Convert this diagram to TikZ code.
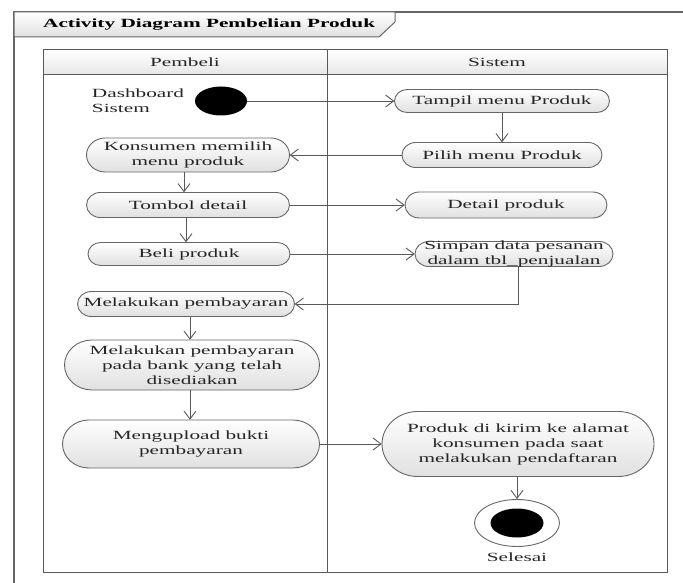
\documentclass[tikz,border=0pt]{standalone}
\usepackage{fontspec}
\setmainfont[FakeStretch=1.7]{Liberation Serif}
\usetikzlibrary{arrows.meta,shapes.geometric}
\tikzset{
  actshape/.style={draw=black!60, line width=0.9pt, top color=white, bottom color=black!12},
  acttext/.style={inner sep=0pt, align=center, font=\fontsize{12.5}{15}\selectfont, text=black!85},
  flow/.style={draw=black!65, line width=0.9pt, -{Straight Barb[length=8pt,width=12pt]}},
  lane/.style={draw=black!65, line width=1pt},
  frameline/.style={draw=black!60, line width=1.3pt},
  initnode/.style={ellipse, fill=black, inner sep=0pt, minimum width=52pt, minimum height=29pt},
}
\newcommand\actnode[6]{%
  \pgfmathsetmacro\actrx{min(0.55*#5,#4/2)}%
  \pgfmathsetmacro\actry{#5/2}%
  \path[actshape] (#2-#4/2+\actrx, -#3+\actry) -- (#2+#4/2-\actrx, -#3+\actry)
     arc[start angle=90, end angle=-90, x radius=\actrx pt, y radius=\actry pt]
     -- (#2-#4/2+\actrx, -#3-\actry)
     arc[start angle=270, end angle=90, x radius=\actrx pt, y radius=\actry pt] -- cycle;
  \node[acttext, minimum width=#4pt, minimum height=#5pt] (#1) at (#2,-#3) {#6};
}
\begin{document}
\begin{tikzpicture}[x=1pt,y=1pt]
\useasboundingbox (0,0) rectangle (683,-583);
\fill[white] (0,0) rectangle (683,-583);
% outer frame
\draw[frameline] (14,-583) -- (14,-12) -- (683,-12);
% title tab
\path[top color=white, bottom color=black!12, draw=black!60, line width=1pt]
  (14,-12) -- (395,-12) -- (395,-22) -- (379,-37) -- (14,-37) -- cycle;
\node[font=\bfseries\fontsize{12.5}{15}\selectfont, anchor=west, inner sep=0pt] (title) at (43,-24.5) {Activity Diagram Pembelian Produk};
% swimlanes
\path[top color=white, bottom color=black!10] (43,-50) rectangle (667,-75);
\draw[lane] (43,-50) rectangle (667,-572);
\draw[lane] (43,-75) -- (667,-75);
\draw[lane] (327,-50) -- (327,-572);
\node[acttext] (hp) at (185,-62.5) {Pembeli};
\node[acttext] (hs) at (497,-62.5) {Sistem};
% start
\node[initnode] (start) at (221,-101) {};
\node[acttext, align=left] (dash) at (138,-100.5) {Dashboard\\Sistem};
% activities
\actnode{tampil}{502}{101}{215}{23}{Tampil menu Produk}
\actnode{pilih}{502}{155}{200}{25}{Pilih menu Produk}
\actnode{konsumen}{188}{155}{203}{34}{Konsumen memilih\\menu produk}
\actnode{tombol}{188}{205}{203}{25}{Tombol detail}
\actnode{detail}{506}{205}{202}{26}{Detail produk}
\actnode{beli}{189}{254}{202}{23}{Beli produk}
\actnode{simpan}{514}{254}{198}{25}{Simpan data pesanan\\dalam tbl\_penjualan}
\actnode{bayar}{186}{304}{217}{25}{Melakukan pembayaran}
\actnode{bank}{192}{365}{255}{50}{Melakukan pembayaran\\pada bank yang telah\\disediakan}
\actnode{upload}{191}{444}{257}{48}{Mengupload bukti\\pembayaran}
\actnode{kirim}{518}{444}{272}{65}{Produk di kirim ke alamat\\konsumen pada saat\\melakukan pendaftaran}
% end
\node[ellipse, draw=black!60, line width=0.9pt, fill=white, inner sep=0pt, minimum width=85pt, minimum height=47pt] (endo) at (517,-523) {};
\node[initnode, minimum width=53pt, minimum height=29pt] (endi) at (517,-523) {};
\node[acttext] (selesai) at (517,-557) {Selesai};
% flows
\draw[flow] (start.east) -- (tampil.west);
\draw[flow] (tampil.south) -- (pilih.north);
\draw[flow] (pilih.west) -- (konsumen.east);
\draw[flow] ([xshift=-4pt]konsumen.south) -- ([xshift=-4pt]tombol.north);
\draw[flow] (tombol.east) -- (detail.west);
\draw[flow] ([xshift=-2pt]tombol.south) -- ([xshift=-3pt]beli.north);
\draw[flow] (beli.east) -- (simpan.west);
\draw[flow] ([xshift=4pt]simpan.south) |- (bayar.east);
\draw[flow] ([xshift=4pt]bayar.south) -- ([xshift=-2pt]bank.north);
\draw[flow] ([xshift=-2pt]bank.south) -- ([xshift=-1pt]upload.north);
\draw[flow] (upload.east) -- (kirim.west);
\draw[flow] ([xshift=-1pt]kirim.south) -- (endo.north);
\end{tikzpicture}
\end{document}
